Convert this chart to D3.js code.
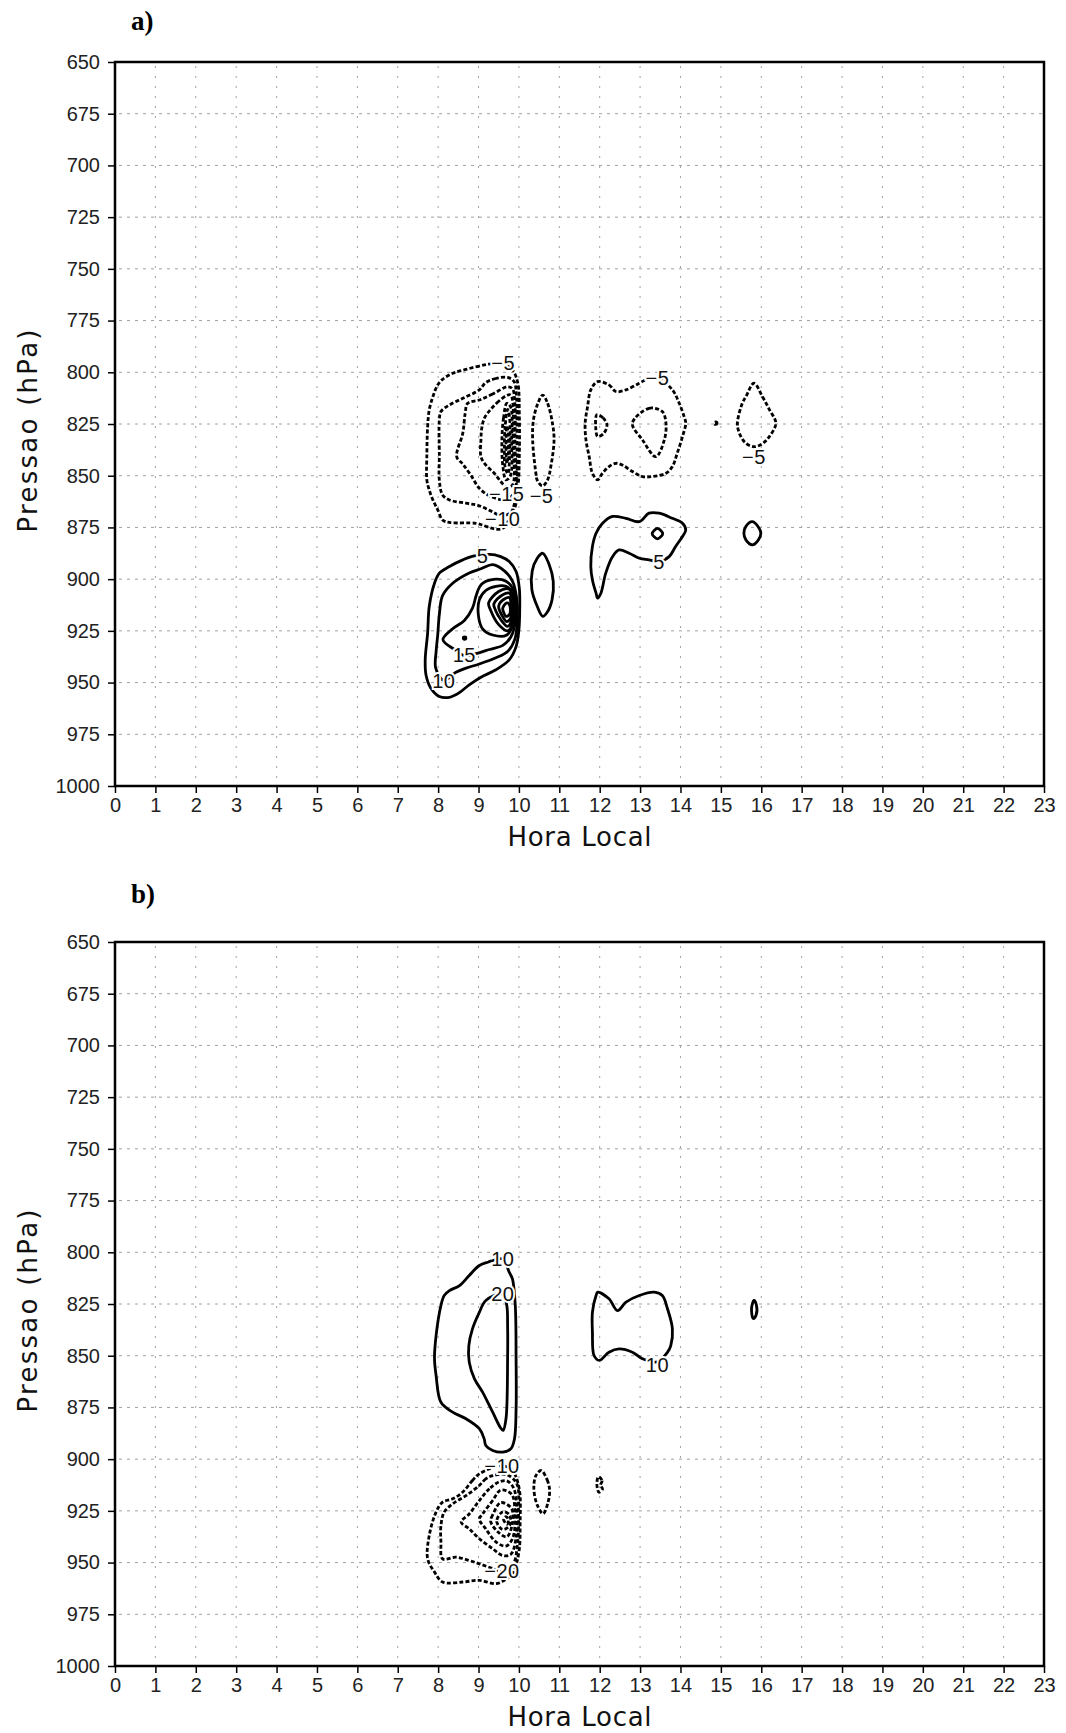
<!DOCTYPE html>
<html>
<head>
<meta charset="utf-8">
<script src="https://cdn.jsdelivr.net/npm/d3@7"></script>
<style>
  body { margin: 0; background: #fff; }
</style>
</head>
<body>
<svg id="chart" width="1066" height="1733"></svg>
<script>
// ---- axis ticks ----
const hourTicks = [0,1,2,3,4,5,6,7,8,9,10,11,12,13,14,15,16,17,18,19,20,21,22,23];
const pressureTicks = [650,675,700,725,750,775,800,825,850,875,900,925,950,975,1000];
const panelTitles = ["a)", "b)"];
const xTitle = "Hora Local";
const yTitle = "Pressao (hPa)";

// ---- panel a: contour lines, [hour, hPa] ----
const contoursA = [
  {level:-5, pts:[[9.27,796],[9.02,797],[8.69,798.6],[8.36,800.5],[8.11,803.4],[7.99,806.1],[7.87,811.8],[7.78,818.2],[7.74,826.3],[7.72,840.8],[7.72,852],[7.78,856.9],[7.87,861.7],[7.99,866.5],[8.11,871.4],[8.28,872.6],[8.94,873],[9.10,873.9],[9.35,875.5],[9.51,875.9],[9.64,874.9],[9.80,868.9],[9.97,856.1],[10.01,840],[10.01,820],[9.98,806],[9.88,800],[9.76,797.5],[9.55,795.5]]},
  {level:-10, pts:[[9.72,802.5],[9.43,803],[9.18,805],[9.02,808.5],[8.61,812.6],[8.28,815.8],[8.07,819],[8.03,823],[8.03,840],[8.03,852],[8.11,859.3],[8.28,861.7],[8.69,863.3],[9.0,864.4],[9.3,867],[9.6,869.4],[9.88,866],[9.95,855],[9.95,830],[9.94,812],[9.88,804.5]]},
  {level:-15, pts:[[9.72,807],[9.35,810.5],[9.02,813.4],[8.73,815],[8.67,819.8],[8.61,829.5],[8.46,840.8],[8.61,844.4],[8.81,849.7],[9.02,856.1],[9.3,860],[9.66,861.5],[9.89,858],[9.9,835],[9.9,815],[9.84,808]]},
  {level:-20, pts:[[9.72,811],[9.5,814],[9.3,818],[9.15,822],[9.08,827],[9.06,832.7],[9.06,840.8],[9.18,844.8],[9.39,848.8],[9.55,852.8],[9.68,855.3],[9.84,854.5],[9.86,835],[9.85,815],[9.8,811]]},
  {level:-25, pts:[[9.7,815],[9.62,822],[9.58,832],[9.6,845],[9.68,852],[9.79,850],[9.82,833],[9.8,817]]},
  {level:-30, pts:[[9.72,818],[9.66,826],[9.64,836],[9.66,846],[9.73,849],[9.77,840],[9.77,822]]},
  {level:-35, pts:[[9.7,826],[9.68,836],[9.7,844],[9.735,840],[9.735,829]]},
  {level:-5, pts:[[10.59,811],[10.71,815],[10.83,824.6],[10.87,832.7],[10.79,845.6],[10.71,852],[10.58,855],[10.45,852],[10.42,848.8],[10.34,832.7],[10.36,823],[10.47,815]]},
  {level:-5, pts:[[11.95,804.5],[12.23,806.1],[12.4,809.3],[12.65,808.5],[12.98,805.3],[13.14,803.7],[13.43,802.6],[13.8,808.5],[13.97,815],[14.09,821.4],[14.13,824.6],[14.05,831.1],[13.92,839.1],[13.8,845.6],[13.64,848.8],[13.31,850.4],[13.06,850.4],[12.81,848],[12.56,844.8],[12.4,844],[12.23,845.6],[12.07,848.8],[11.95,852],[11.82,848.8],[11.74,840.8],[11.66,832.7],[11.64,824.6],[11.7,816.6],[11.78,808.5]]},
  {level:-10, pts:[[11.93,820.5],[12.08,822],[12.18,825.5],[12.1,829.5],[11.95,831],[11.9,826]]},
  {level:-10, pts:[[12.81,824.6],[13.22,817.4],[13.55,819],[13.64,824.6],[13.6,832.7],[13.39,840.8],[13.06,832.7]]},
  {level:-5, pts:[[14.84,824.2],[14.9,824.2],[14.9,825],[14.84,825]]},
  {level:-5, pts:[[15.82,805.3],[16.03,811.8],[16.2,818],[16.36,824.6],[16.2,831.1],[16.03,834.5],[15.82,836],[15.6,834],[15.45,829],[15.41,824.6],[15.53,815],[15.62,811.8]]},
  {level:5, pts:[[9.27,888],[9.55,889.1],[9.76,891.5],[9.93,896.3],[10.01,904.4],[10.02,914.9],[10.0,924.5],[9.93,932.6],[9.76,939],[9.43,943.8],[9.06,947.4],[8.77,951.1],[8.53,954.8],[8.28,957.1],[8.03,956.7],[7.82,952.7],[7.7,946.3],[7.68,939],[7.74,926.1],[7.78,913.2],[7.91,902],[8.03,897.1],[8.28,893.9],[8.61,890.7],[8.89,888.8],[9.1,888.8]]},
  {level:10, pts:[[9.35,893],[9.64,896],[9.84,901],[9.95,910],[9.96,920],[9.9,929],[9.72,935],[9.43,938],[9.02,941],[8.69,943],[8.44,945],[8.14,949],[7.94,943],[7.95,935],[7.99,927],[8.03,917],[8.11,908],[8.36,902],[8.77,897],[9.06,895]]},
  {level:15, pts:[[9.1,902],[9.43,900],[9.68,901],[9.86,905],[9.91,920],[9.8,928],[9.6,932],[9.27,934],[8.94,936],[8.65,937],[8.4,934],[8.12,929.3],[8.36,924],[8.65,920],[8.85,914],[8.94,908],[9.02,904]]},
  {level:20, pts:[[9.02,910],[9.18,905.5],[9.43,903.5],[9.68,903.5],[9.86,907],[9.88,920],[9.7,927],[9.35,927],[9.1,924],[9.0,918]]},
  {level:25, pts:[[9.25,911.5],[9.5,906],[9.75,904.8],[9.84,908],[9.85,921],[9.72,925],[9.5,922],[9.3,915]]},
  {level:30, pts:[[9.38,912],[9.6,907.5],[9.77,906.8],[9.82,909.5],[9.82,920],[9.72,922.8],[9.55,919.5],[9.42,915]]},
  {level:35, pts:[[9.5,913],[9.65,909.5],[9.77,909],[9.8,911.5],[9.8,918.5],[9.7,920.5],[9.58,917.5]]},
  {level:40, pts:[[9.6,914],[9.7,911.5],[9.77,912.5],[9.77,917],[9.68,918],[9.62,916]]},
  {level:20, pts:[[8.63,928],[8.68,928],[8.68,929],[8.63,929]]},
  {level:5, pts:[[10.59,887.5],[10.75,893],[10.85,901],[10.82,910],[10.7,916],[10.59,918],[10.45,913],[10.32,905],[10.33,896],[10.45,890]]},
  {level:5, pts:[[13.47,891.5],[13.72,889.1],[13.88,884.2],[14.05,879.4],[14.13,876.2],[14.05,873],[13.8,870.6],[13.47,868.1],[13.22,868.1],[12.98,872.2],[12.65,870.6],[12.32,869.7],[12.07,873],[11.91,877.8],[11.82,884.2],[11.78,893.9],[11.82,900.4],[11.91,906.8],[11.95,909.2],[12.03,906.8],[12.15,897.1],[12.32,889.1],[12.48,885.9],[12.73,887.5],[12.98,889.9],[13.22,890.7]]},
  {level:10, pts:[[13.43,875.5],[13.56,878],[13.43,880.5],[13.3,878]]},
  {level:5, pts:[[15.78,872.2],[15.95,875.5],[15.99,877.8],[15.93,881],[15.78,883.4],[15.62,881],[15.57,877.8],[15.62,874.5]]}
];
const labelsA = [
  {level:-5, h:9.61, p:795.2},
  {level:-15, h:9.7, p:858.8},
  {level:-10, h:9.6, p:870.6},
  {level:-5, h:10.56, p:859.6},
  {level:-5, h:13.43, p:802.6},
  {level:-5, h:15.82, p:840.8},
  {level:5, h:9.1, p:888.8},
  {level:15, h:8.65, p:936.6},
  {level:10, h:8.14, p:949},
  {level:5, h:13.47, p:891.5}
];

// ---- panel b: contour lines, [hour, hPa] ----
const contoursB = [
  {level:10, pts:[[9.6,803.2],[9.76,809.6],[9.84,812.9],[9.91,825.7],[9.93,851.5],[9.93,875.7],[9.89,890.2],[9.8,895],[9.6,896.6],[9.35,895.8],[9.18,893.4],[9.14,890.2],[9.02,885.3],[8.69,880.5],[8.36,877.3],[8.07,872.5],[7.95,859.6],[7.91,851.5],[7.95,840.2],[8.07,825.7],[8.15,820.9],[8.28,818.5],[8.53,816.1],[8.77,811.2],[9.02,806.4],[9.23,804.8]]},
  {level:20, pts:[[9.6,820.1],[9.7,825.7],[9.72,835.4],[9.72,851.5],[9.68,880.5],[9.61,886.1],[9.56,885.3],[9.35,877.3],[9.1,867.6],[8.9,861.2],[8.77,853.1],[8.76,845.1],[8.85,837],[9.02,829],[9.18,823.3]]},
  {level:10, pts:[[11.95,819.3],[12.23,822.5],[12.44,828.2],[12.65,824.1],[12.98,820.9],[13.35,819.3],[13.55,820.9],[13.68,827.4],[13.8,837],[13.76,845.1],[13.68,848.3],[13.43,853],[13.06,851.5],[12.81,848.3],[12.48,846.7],[12.23,848.3],[11.99,852.3],[11.86,849.9],[11.82,838.6],[11.82,829],[11.91,820.9]]},
  {level:10, pts:[[15.82,823.3],[15.88,825.5],[15.87,830.5],[15.8,832],[15.76,827]]},
  {level:-10, pts:[[9.02,907.1],[8.85,910.3],[8.61,915.9],[8.36,919.2],[8.11,920.8],[7.95,925.6],[7.78,936.9],[7.74,948.2],[7.91,954.6],[8.11,959.4],[8.61,959.4],[9.02,958.6],[9.43,960.2],[9.64,958.6],[9.84,955.4],[10.0,944.9],[10.03,930.4],[10.02,915.9],[9.93,908.7],[9.84,905.5],[9.58,903.1]]},
  {level:-20, pts:[[9.35,908],[9.18,909.5],[9.02,912.7],[8.69,917.6],[8.36,921.6],[8.15,925.6],[8.07,932.1],[8.07,940.1],[8.11,948.2],[8.44,947.4],[8.77,949],[9.02,950.6],[9.3,952.5],[9.58,954.1],[9.85,951],[9.97,940],[9.99,925],[9.95,912],[9.7,907.5]]},
  {level:-30, pts:[[9.51,911],[9.27,914.3],[9.02,920],[8.77,926.5],[8.57,930.4],[8.77,933.7],[9.02,938.5],[9.35,943.3],[9.6,946.6],[9.8,946],[9.93,938],[9.95,925],[9.87,914],[9.7,910.5]]},
  {level:-40, pts:[[9.55,915],[9.35,920],[9.1,926.5],[9.02,929],[9.18,933.7],[9.43,940],[9.68,942],[9.85,938],[9.9,926],[9.82,917]]},
  {level:-50, pts:[[9.55,921],[9.35,927],[9.3,930],[9.47,935],[9.7,937.5],[9.83,932],[9.82,924]]},
  {level:-60, pts:[[9.6,925.5],[9.45,930],[9.6,934],[9.77,932],[9.77,927]]},
  {level:-70, pts:[[9.62,929],[9.7,931.5],[9.74,929.5],[9.68,927.8]]},
  {level:-10, pts:[[10.55,905.5],[10.7,910],[10.76,915],[10.72,921],[10.6,926.4],[10.45,922],[10.37,914],[10.42,908]]},
  {level:-10, pts:[[11.97,908.5],[12.06,910.5],[12.02,912.5],[12.07,914.5],[11.98,916],[11.93,912]]}
];
const labelsB = [
  {level:10, h:9.6, p:803.2},
  {level:20, h:9.6, p:820.1},
  {level:10, h:13.43, p:854.3},
  {level:-10, h:9.58, p:903.1},
  {level:-20, h:9.58, p:954.1}
];

// ---- layout ----
const plotLeft = 115, plotRight = 1044, plotHeight = 724;
const panels = [
  {title: panelTitles[0], top: 62,  titleY: 30,  contours: contoursA, labels: labelsA},
  {title: panelTitles[1], top: 942, titleY: 903, contours: contoursB, labels: labelsB}
];

const svg = d3.select("#chart");
svg.append("rect").attr("width", 1066).attr("height", 1733).attr("fill", "#fff");

const fmtLevel = v => v < 0 ? "\u2212" + Math.abs(v) : String(v);
const tickFont = "'Liberation Sans', Arial, sans-serif";
const titleFont = "'DejaVu Sans', Verdana, sans-serif";

panels.forEach(pn => {
  const x = d3.scaleLinear().domain([0, 23]).range([plotLeft, plotRight]);
  const y = d3.scaleLinear().domain([650, 1000]).range([pn.top, pn.top + plotHeight]);
  const g = svg.append("g");

  // dotted grid
  g.append("g").selectAll("line").data(hourTicks.slice(1, -1)).join("line")
    .attr("x1", d => x(d)).attr("x2", d => x(d))
    .attr("y1", pn.top + 4).attr("y2", pn.top + plotHeight)
    .attr("stroke", "#a0a0a0").attr("stroke-width", 1)
    .attr("stroke-dasharray", "2,8");
  g.append("g").selectAll("line").data(pressureTicks.slice(1, -1)).join("line")
    .attr("x1", plotLeft + 4).attr("x2", plotRight)
    .attr("y1", d => y(d)).attr("y2", d => y(d))
    .attr("stroke", "#a0a0a0").attr("stroke-width", 1)
    .attr("stroke-dasharray", "3,5");

  // contour lines: solid positive, dashed negative
  const line = d3.line()
    .x(d => x(d[0])).y(d => y(d[1]))
    .curve(d3.curveCatmullRomClosed.alpha(0.5));
  g.append("g").selectAll("path").data(pn.contours).join("path")
    .attr("d", d => line(d.pts))
    .attr("fill", "none").attr("stroke", "#000")
    .attr("stroke-width", 2.8).attr("stroke-linejoin", "round")
    .attr("stroke-dasharray", d => d.level < 0 ? "4,2.2" : null);

  // contour labels with a white halo breaking the line
  g.append("g").selectAll("text").data(pn.labels).join("text")
    .attr("x", d => x(d.h)).attr("y", d => y(d.p))
    .attr("dy", "0.36em").attr("text-anchor", "middle")
    .attr("font-family", tickFont).attr("font-size", 20)
    .attr("letter-spacing", 0.5)
    .attr("stroke", "#fff").attr("stroke-width", 4).attr("paint-order", "stroke")
    .attr("fill", "#111")
    .text(d => fmtLevel(d.level));

  // frame
  g.append("rect")
    .attr("x", plotLeft).attr("y", pn.top)
    .attr("width", plotRight - plotLeft).attr("height", plotHeight)
    .attr("fill", "none").attr("stroke", "#000").attr("stroke-width", 2.5);

  // axes
  const yAxis = g.append("g").attr("transform", `translate(${plotLeft},0)`)
    .call(d3.axisLeft(y).tickValues(pressureTicks).tickSize(7).tickPadding(8).tickFormat(d3.format("d")));
  const xAxis = g.append("g").attr("transform", `translate(0,${pn.top + plotHeight})`)
    .call(d3.axisBottom(x).tickValues(hourTicks).tickSize(7).tickPadding(5).tickFormat(d3.format("d")));
  [yAxis, xAxis].forEach(ax => {
    ax.select(".domain").remove();
    ax.selectAll(".tick line").attr("stroke", "#000").attr("stroke-width", 1.5);
    ax.selectAll(".tick text").attr("font-family", tickFont).attr("font-size", 20).attr("fill", "#222");
  });

  // axis titles
  g.append("text")
    .attr("x", (plotLeft + plotRight) / 2).attr("y", pn.top + plotHeight + 60)
    .attr("text-anchor", "middle")
    .attr("font-family", titleFont).attr("font-size", 26)
    .attr("textLength", 144).attr("lengthAdjust", "spacing")
    .attr("fill", "#111").text(xTitle);
  g.append("text")
    .attr("transform", `translate(37,${pn.top + 369}) rotate(-90)`)
    .attr("text-anchor", "middle")
    .attr("font-family", titleFont).attr("font-size", 26)
    .attr("textLength", 203).attr("lengthAdjust", "spacing")
    .attr("fill", "#111").text(yTitle);

  // panel letter
  g.append("text")
    .attr("x", 131).attr("y", pn.titleY)
    .attr("font-family", "'Liberation Serif', 'Times New Roman', serif")
    .attr("font-weight", "bold").attr("font-size", 27)
    .attr("fill", "#000").text(pn.title);
});
</script>
</body>
</html>
